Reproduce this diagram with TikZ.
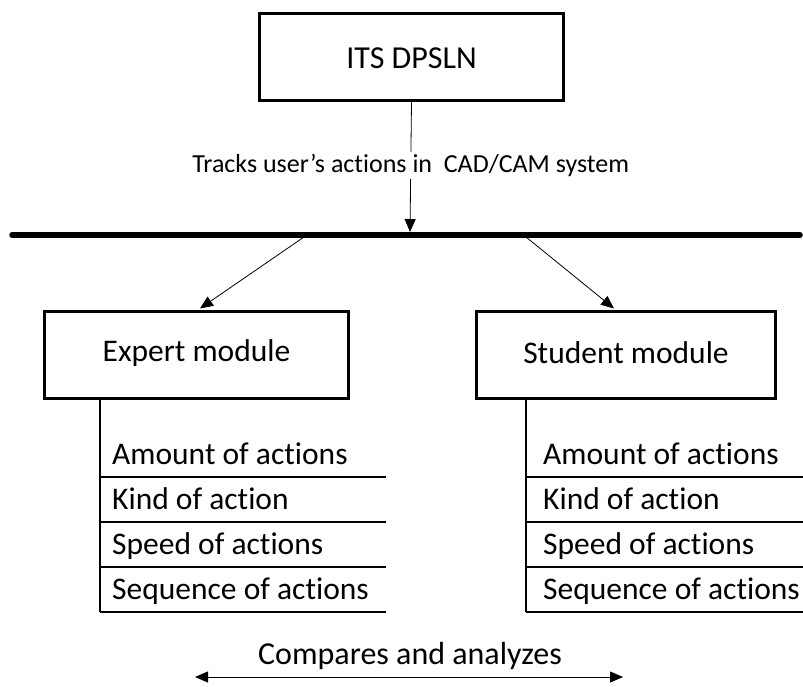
\documentclass[tikz,border=0pt]{standalone}
\usepackage{fontspec}
\setmainfont{Carlito}[Ligatures={NoCommon,NoRare,NoContextual}]
\usetikzlibrary{arrows.meta}
\begin{document}
\begin{tikzpicture}[x=1pt,y=-1pt,
  bigbox/.style={draw,line width=3pt,inner sep=0pt,anchor=north west},
  conn/.style={line width=0.8pt,-{Triangle[length=13pt,width=11pt]}},
  listline/.style={line width=1.8pt},
  item/.style={anchor=base west,inner sep=0pt,font=\fontsize{31.5}{33}\selectfont},
  modtext/.style={font=\fontsize{31.5}{33}\selectfont},
  lbl/.style={font=\fontsize{26}{28}\selectfont,fill=white,inner sep=2pt}]
\useasboundingbox (0,0) rectangle (803,687);
% top box
\node[bigbox,minimum width=304pt,minimum height=87pt] (its) at (258,12) {};
\node[font=\fontsize{32}{34}\selectfont] (itst) at ([yshift=-1pt]its.center) {ITS DPSLN};
% bus
\coordinate (busL) at (12,235);
\coordinate (busR) at (800,235);
\draw[line width=5.5pt,line cap=round] (busL) -- (busR);
\coordinate (busC) at (410,232);
\coordinate (busA) at (304,237);
\coordinate (busB) at (526,237);
% label on vertical
\draw[conn] (its.south) -- (busC) node[lbl,pos=0.49] (track) {Tracks user’s actions in\ \ CAD/CAM system};
% module boxes
\node[bigbox,minimum width=304pt,minimum height=87pt] (exp) at (43,310) {};
\node[modtext] (expt) at ([yshift=2pt]exp.center) {Expert module};
\node[bigbox,minimum width=299pt,minimum height=87pt] (stu) at (475,310) {};
\node[modtext] (stut) at ([yshift=2pt]stu.center) {Student module};
\coordinate (expTop) at (200,308.5);
\coordinate (stuTop) at (614,308.5);
\draw[conn] (busA) -- (expTop);
\draw[conn] (busB) -- (stuTop);
% expert list
\coordinate (e0) at (100,397);
\coordinate (e4) at (100,612);
\draw[listline] (e0) -- (e4);
\foreach \y/\t [count=\i] in {477/Amount of actions,522/Kind of action,567/Speed of actions,612/Sequence of actions}{
  \coordinate (el\i) at (386,\y);
  \draw[listline] (100,\y) -- (el\i);
  \node[item] (ei\i) at (112,\y-13) {\t};
}
% student list
\coordinate (s0) at (526,397);
\coordinate (s4) at (526,612);
\draw[listline] (s0) -- (s4);
\foreach \y/\t [count=\i] in {477/Amount of actions,522/Kind of action,567/Speed of actions,612/Sequence of actions}{
  \coordinate (sl\i) at (803,\y);
  \draw[listline] (526,\y) -- (sl\i);
  \node[item] (si\i) at (543,\y-13) {\t};
}
% bottom
\node[font=\fontsize{32}{34}\selectfont,anchor=base] (cmp) at (410,664) {Compares and analyzes};
\coordinate (cL) at (195,677);
\coordinate (cR) at (623,677);
\draw[line width=0.8pt,{Triangle[length=13pt,width=11pt]}-{Triangle[length=13pt,width=11pt]}] (cL) -- (cR);
\end{tikzpicture}
\end{document}
